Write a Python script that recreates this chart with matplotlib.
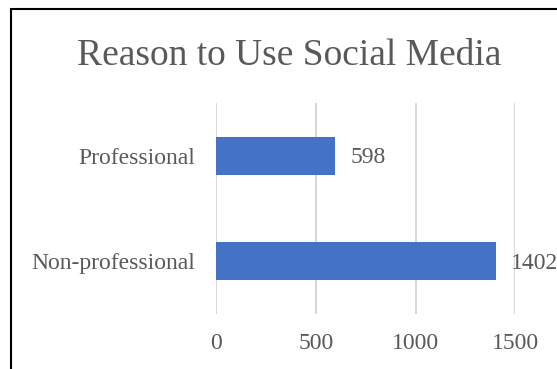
import matplotlib.pyplot as plt
from matplotlib.patches import Rectangle

categories = ['Non-professional', 'Professional']
counts = [1402, 598]
xticks = [0, 500, 1000, 1500]

plt.rcParams['font.family'] = ['Liberation Serif', 'DejaVu Serif']
grey = '#595959'

fig = plt.figure(figsize=(5.57, 3.69), dpi=100)
ax = fig.add_axes([0.388, 0.149, 0.537, 0.572])

ax.barh(range(len(categories)), counts, height=0.36, color='#4472C4', zorder=3)
for i, v in enumerate(counts):
    ax.annotate(str(v), (v, i), xytext=(15, -2), textcoords='offset pixels',
                va='center', ha='left', fontsize=17, color=grey)

ax.set_xlim(0, 1500)
ax.set_ylim(-0.5, 1.5)
ax.set_xticks(xticks)
ax.set_yticks(range(len(categories)))
ax.set_yticklabels(categories)
ax.tick_params(axis='both', length=0, labelsize=17, labelcolor=grey)
ax.tick_params(axis='x', pad=13.5)
ax.tick_params(axis='y', pad=15)
ax.grid(axis='x', color='#D9D9D9', linewidth=1.5, zorder=0)
for s in ax.spines.values():
    s.set_visible(False)

fig.text(0.52, 0.85, 'Reason to Use Social Media', ha='center', va='center',
         fontsize=27, color=grey)

# chart frame
fig.patches.append(Rectangle((11 / 557, -0.1), 1.2, 1.1 - 9 / 369, transform=fig.transFigure,
                             fill=False, edgecolor='black', linewidth=1.5))

fig.savefig('out.png', dpi=100)
